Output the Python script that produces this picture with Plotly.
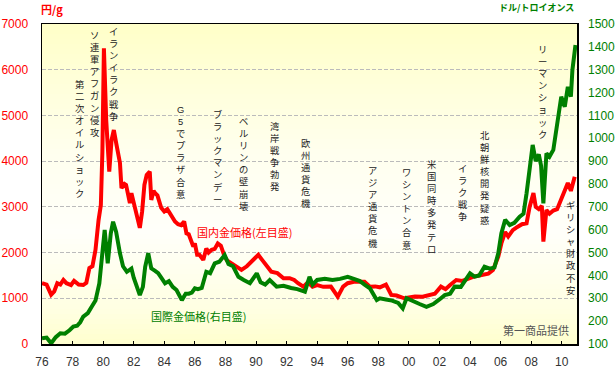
import plotly.graph_objects as go

# ---------------- data ----------------
red_years = [1976.0, 1976.3, 1976.6, 1976.8, 1977.0, 1977.2, 1977.4, 1977.6, 1977.9, 1978.1,
             1978.4, 1978.7, 1978.9, 1979.1, 1979.3, 1979.5, 1979.7, 1979.85, 1979.95, 1980.05,
             1980.2, 1980.4, 1980.55, 1980.7, 1980.85, 1981.1, 1981.2, 1981.4, 1981.5, 1981.6,
             1981.75, 1981.85, 1982.1, 1982.25, 1982.4, 1982.55, 1982.7, 1982.85, 1983.05, 1983.15,
             1983.3, 1983.4, 1983.55, 1983.8, 1984.0, 1984.2, 1984.4, 1984.7, 1984.9, 1985.1,
             1985.3, 1985.45, 1985.6, 1985.75, 1985.9, 1986.0, 1986.15, 1986.3, 1986.55, 1986.75,
             1986.9, 1987.1, 1987.3, 1987.5, 1987.7, 1987.95, 1988.1, 1988.4, 1988.7, 1989.05,
             1989.4, 1989.7, 1990.15, 1990.4, 1990.7, 1991.0, 1991.4, 1991.8, 1992.2, 1992.5,
             1992.75, 1993.1, 1993.4, 1993.7, 1994.0, 1994.4, 1994.9, 1995.1, 1995.35, 1995.7,
             1996.0, 1996.4, 1996.7, 1997.1, 1997.45, 1997.8, 1998.1, 1998.5, 1998.85, 1999.2,
             1999.7, 2000.0, 2000.4, 2000.9, 2001.3, 2001.7, 2002.1, 2002.4, 2002.7, 2003.1,
             2003.5, 2003.8, 2004.2, 2004.6, 2004.9, 2005.2, 2005.5, 2005.85, 2006.05, 2006.3,
             2006.5, 2006.8, 2007.1, 2007.4, 2007.7, 2007.9, 2008.15, 2008.3, 2008.5, 2008.7,
             2008.8, 2009.0, 2009.2, 2009.45, 2009.7, 2009.95, 2010.2, 2010.4, 2010.6, 2010.85]
red_values = [1330, 1300, 1080, 1150, 1330, 1300, 1400, 1330, 1290, 1380,
              1300, 1290, 1340, 1660, 1700, 2060, 2710, 3040, 4200, 6470,
              4900, 3770, 4460, 4680, 4400, 3960, 3410, 3500, 3480, 3300,
              3080, 3300, 2930, 2700, 2540, 2900, 3480, 3700, 3770, 3150,
              3350, 3300, 3250, 2980, 2900, 2950, 2850, 2680, 2620, 2600,
              2680, 2420, 2400, 2250, 2130, 2200, 1950, 1950, 1840, 2090,
              2000, 2060, 2080, 2200, 2150, 1910, 1830, 1765, 1700, 1620,
              1700, 1800, 1950, 1840, 1700, 1580, 1550, 1440, 1440, 1400,
              1330, 1255, 1350, 1255, 1290, 1250, 1255, 1150, 1035, 1255,
              1330, 1360, 1360, 1360, 1255, 1260, 1240, 1300, 1072, 1060,
              1000, 1020, 1040, 1035, 1060, 1100, 1255, 1200, 1290, 1400,
              1380, 1420, 1470, 1500, 1520, 1540, 1620, 1910, 2200, 2450,
              2350, 2490, 2560, 2620, 2640, 3000, 3300, 3000, 2950, 3020,
              2240, 2930, 2850, 2920, 2950, 3150, 3370, 3520, 3350, 3660]

green_years = [1976.0, 1976.3, 1976.6, 1976.9, 1977.2, 1977.5, 1977.8, 1978.05, 1978.3, 1978.5,
               1978.7, 1979.0, 1979.25, 1979.5, 1979.75, 1979.95, 1980.1, 1980.3, 1980.5, 1980.65,
               1980.85, 1981.1, 1981.3, 1981.55, 1981.85, 1982.0, 1982.2, 1982.4, 1982.6, 1982.75,
               1982.95, 1983.15, 1983.4, 1983.6, 1983.8, 1984.05, 1984.3, 1984.55, 1984.8, 1985.15,
               1985.4, 1985.6, 1985.8, 1986.0, 1986.2, 1986.45, 1986.75, 1987.0, 1987.3, 1987.6,
               1987.95, 1988.2, 1988.5, 1988.85, 1989.2, 1989.6, 1990.05, 1990.3, 1990.6, 1990.9,
               1991.35, 1991.8, 1992.3, 1992.7, 1993.2, 1993.5, 1993.7, 1994.0, 1994.5, 1995.0,
               1995.5, 1996.0, 1996.4, 1996.8, 1997.1, 1997.45, 1997.9, 1998.1, 1998.5, 1998.9,
               1999.3, 1999.6, 1999.85, 2000.3, 2000.7, 2001.15, 2001.6, 2002.0, 2002.35, 2002.7,
               2003.0, 2003.4, 2003.7, 2004.0, 2004.3, 2004.6, 2004.95, 2005.3, 2005.6, 2005.85,
               2006.05, 2006.3, 2006.6, 2006.9, 2007.25, 2007.5, 2007.7, 2007.9, 2008.1, 2008.3,
               2008.5, 2008.65, 2008.8, 2009.0, 2009.2, 2009.45, 2009.75, 2009.97, 2010.2, 2010.4,
               2010.6, 2010.7, 2010.9]
green_values = [125, 128, 103, 130, 147, 145, 160, 176, 180, 195,
                220, 235, 263, 290, 365, 526, 599, 453, 584, 635,
                590, 497, 440, 416, 430, 390, 350, 314, 350, 438,
                497, 431, 420, 410, 390, 365, 375, 350, 336, 292,
                320, 320, 325, 344, 340, 345, 416, 410, 453, 460,
                489, 450, 440, 394, 380, 366, 409, 370, 360, 380,
                351, 355, 345, 340, 329, 394, 360, 380, 385, 380,
                385, 394, 385, 375, 360, 344, 292, 300, 295, 290,
                280, 256, 300, 285, 275, 263, 275, 295, 314, 320,
                351, 350, 380, 409, 395, 400, 438, 430, 435, 497,
                584, 643, 620, 630, 657, 670, 759, 861, 971, 900,
                930, 880, 715, 934, 920, 949, 1080, 1182, 1138, 1225,
                1182, 1299, 1408]

left_tickvals = [0, 1000, 2000, 3000, 4000, 5000, 6000, 7000]
right_tickvals = [100, 200, 300, 400, 500, 600, 700, 800, 900, 1000, 1100, 1200, 1300, 1400, 1500]
x_tickvals = [1976, 1978, 1980, 1982, 1984, 1986, 1988, 1990, 1992, 1994,
              1996, 1998, 2000, 2002, 2004, 2006, 2008, 2010]
x_ticktext = ["76", "78", "80", "82", "84", "86", "88", "90", "92", "94",
              "96", "98", "00", "02", "04", "06", "08", "10"]

event_labels = ["第二次オイルショック", "ソ連軍アフガン侵攻", "イランイラク戦争", "G5でプラザ合意",
                "ブラックマンデー", "ベルリンの壁崩壊", "湾岸戦争勃発", "欧州通貨危機",
                "アジア通貨危機", "ワシントン合意", "米国同時多発テロ", "イラク戦争",
                "北朝鮮核開発疑惑", "リーマンショック", "ギリシャ財政不安"]

red_name = "国内金価格(左目盛)"
green_name = "国際金価格(右目盛)"
left_unit = "円/g"
right_unit = "ドル/トロイオンス"
source_text = "第一商品提供"

# ---------------- layout helpers ----------------
W, H = 615, 370
L, R, T, B = 42, 577, 24, 344
JP = "Noto Sans CJK JP"
JPV = "Liberation Sans, Noto Sans CJK JP"
NUM = "Liberation Sans"


def paper(xp, yp):
    return (xp - L) / (R - L), (B - yp) / (B - T)


fig = go.Figure()

fig.add_trace(go.Scatter(x=red_years, y=red_values, mode="lines", yaxis="y",
                         line=dict(color="#FF0000", width=4), name=red_name,
                         showlegend=False, hoverinfo="skip"))
fig.add_trace(go.Scatter(x=green_years, y=green_values, mode="lines", yaxis="y2",
                         line=dict(color="#008000", width=4), name=green_name,
                         showlegend=False, hoverinfo="skip"))

# background gradient (plot area)
stops = [(0.0, 205), (0.1, 225), (0.35, 250), (0.6, 238), (1.0, 200)]


def blue_at(f):
    for (f0, b0), (f1, b1) in zip(stops[:-1], stops[1:]):
        if f0 <= f <= f1:
            return b0 + (b1 - b0) * (f - f0) / (f1 - f0)
    return stops[-1][1]


shapes = []
N = 64
for i in range(N):
    f0, f1 = i / N, (i + 1) / N
    b = int(round(blue_at((f0 + f1) / 2)))
    shapes.append(dict(type="rect", xref="x domain", yref="y domain", x0=0, x1=1,
                       y0=f0, y1=f1 + 0.002, fillcolor=f"rgb(255,255,{b})",
                       line=dict(width=0), layer="below"))

annotations = []
event_pos = [(79, 78), (95, 30), (114, 26), (181, 104), (218, 108), (244, 116),
             (275, 120), (306, 137), (373, 165), (407, 167), (432, 158), (463, 163),
             (485, 130), (542, 44), (570, 200)]
for label, (xp, yp) in zip(event_labels, event_pos):
    xx, yy = paper(xp, yp)
    annotations.append(dict(text="<br>".join(list(label)), x=xx, y=yy, xref="paper", yref="paper",
                            xanchor="center", yanchor="top", showarrow=False, align="center",
                            borderpad=0,
                            font=dict(family=JPV, size=9.3, color="#222222")))

xx, yy = paper(195, 232)
annotations.append(dict(text=red_name, x=xx, y=yy, xref="paper", yref="paper", xanchor="left",
                        yanchor="middle", showarrow=False,
                        font=dict(family=JP, size=11, color="#FF0000")))
xx, yy = paper(149, 316)
annotations.append(dict(text=green_name, x=xx, y=yy, xref="paper", yref="paper", xanchor="left",
                        yanchor="middle", showarrow=False,
                        font=dict(family=JP, size=11, color="#008000")))
xx, yy = paper(571, 330)
annotations.append(dict(text=source_text, x=xx, y=yy, xref="paper", yref="paper", xanchor="right",
                        yanchor="middle", showarrow=False,
                        font=dict(family=JP, size=11, color="#555555")))
xx, yy = paper(39, 9)
annotations.append(dict(text=f"<b>{left_unit}</b>", x=xx, y=yy, xref="paper", yref="paper",
                        xanchor="left", yanchor="middle", showarrow=False,
                        font=dict(family=JP, size=11, color="#FF0000")))
xx, yy = paper(576, 8)
annotations.append(dict(text=f"<b>{right_unit}</b>", x=xx, y=yy, xref="paper", yref="paper",
                        xanchor="right", yanchor="middle", showarrow=False,
                        font=dict(family=JP, size=9, color="#008000")))

fig.update_layout(
    template="none",
    width=W, height=H,
    margin=dict(l=L, r=W - R, t=T, b=H - B, pad=0, autoexpand=False),
    paper_bgcolor="white", plot_bgcolor="rgb(255,255,235)",
    showlegend=False,
    shapes=shapes,
    annotations=annotations,
    xaxis=dict(range=[1976, 2011], tickvals=x_tickvals, ticktext=x_ticktext, automargin=False,
               showgrid=False, zeroline=False, showline=True, linecolor="black", linewidth=1.5,
               mirror=True, ticks="inside", ticklen=3, tickcolor="black",
               tickfont=dict(family=NUM, size=12, color="#333333"), ticklabelstandoff=6),
    yaxis=dict(range=[0, 7000], tickvals=left_tickvals, showgrid=True, gridcolor="#BBBBBB",
               griddash="4px,2px", gridwidth=1, zeroline=False, showline=True, linecolor="black",
               linewidth=1.5, mirror=True, ticks="", automargin=False,
               tickfont=dict(family=NUM, size=12, color="#FF0000"), ticklabelstandoff=10),
    yaxis2=dict(range=[100, 1500], tickvals=right_tickvals, overlaying="y", side="right",
                showgrid=False, zeroline=False, ticks="", showline=False, automargin=False,
                tickfont=dict(family=NUM, size=12, color="#008000"), ticklabelstandoff=10),
)

fig.write_html("out.html", config={"displayModeBar": False, "staticPlot": True},
               post_script="document.body.style.margin='0';document.body.style.overflow='hidden';")
